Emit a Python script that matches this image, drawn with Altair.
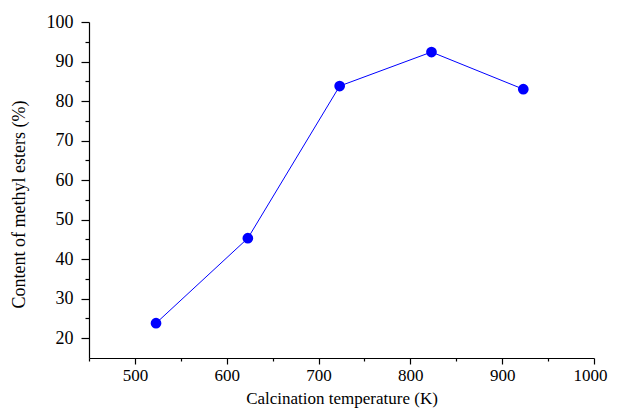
import altair as alt
import pandas as pd

temperature = [523, 623, 723, 823, 923]
content = [23.8, 45.3, 83.8, 92.4, 83.0]

x_ticks = [450, 500, 550, 600, 650, 700, 750, 800, 850, 900, 950, 1000]
y_ticks = [20, 25, 30, 35, 40, 45, 50, 55, 60, 65, 70, 75, 80, 85, 90, 95, 100]

df = pd.DataFrame({"T": temperature, "C": content})

FONT = "Liberation Serif, Times New Roman, serif"
BLUE = "#0000FF"

x_enc = alt.X(
    "T:Q",
    scale=alt.Scale(domain=[450, 1000], nice=False, zero=False),
    axis=alt.Axis(
        title="Calcination temperature (K)",
        values=x_ticks,
        format="d",
        labelExpr="datum.value % 100 == 0 ? datum.label : ''",
        tickSize={"condition": {"test": "datum.value % 100 == 0", "value": 6}, "value": 3},
        labelOffset={"condition": {"test": "datum.value == 1000", "value": -4}, "value": 0},
        grid=False,
        domainColor="black", tickColor="black", labelColor="black", titleColor="black",
        domainWidth=1.2, tickWidth=1.2,
        labelFont=FONT, labelFontSize=17, titleFont=FONT, titleFontSize=17,
        titleFontWeight="normal", labelPadding=3, titlePadding=7,
        labelFlush=False, labelOverlap=False,
    ),
)
y_enc = alt.Y(
    "C:Q",
    scale=alt.Scale(domain=[15, 100], nice=False, zero=False),
    axis=alt.Axis(
        title="Content of methyl esters (%)",
        values=y_ticks,
        format="d",
        labelExpr="datum.value % 10 == 0 ? datum.label : ''",
        tickSize={"condition": {"test": "datum.value % 10 == 0", "value": 8}, "value": 4},
        grid=False,
        domainColor="black", tickColor="black", labelColor="black", titleColor="black",
        domainWidth=1.2, tickWidth=1.2,
        labelFont=FONT, labelFontSize=18, titleFont=FONT, titleFontSize=18,
        titleFontWeight="normal", labelPadding=8, titlePadding=18,
        labelFlush=False, labelOverlap=False, titleY=182,
    ),
)

line = alt.Chart(df).mark_line(color=BLUE, strokeWidth=1).encode(x=x_enc, y=y_enc)
pts = alt.Chart(df).mark_point(shape="circle", filled=True, color=BLUE, size=115, opacity=1).encode(x=x_enc, y=y_enc)

chart = alt.layer(line, pts).properties(
    width=505, height=336,
    autosize=alt.AutoSizeParams(type="none"),
    padding={"left": 81, "top": 14, "right": 15, "bottom": 54},
).configure_view(stroke=None)

chart.save("out.html", embed_options={"renderer": "svg", "actions": False})
